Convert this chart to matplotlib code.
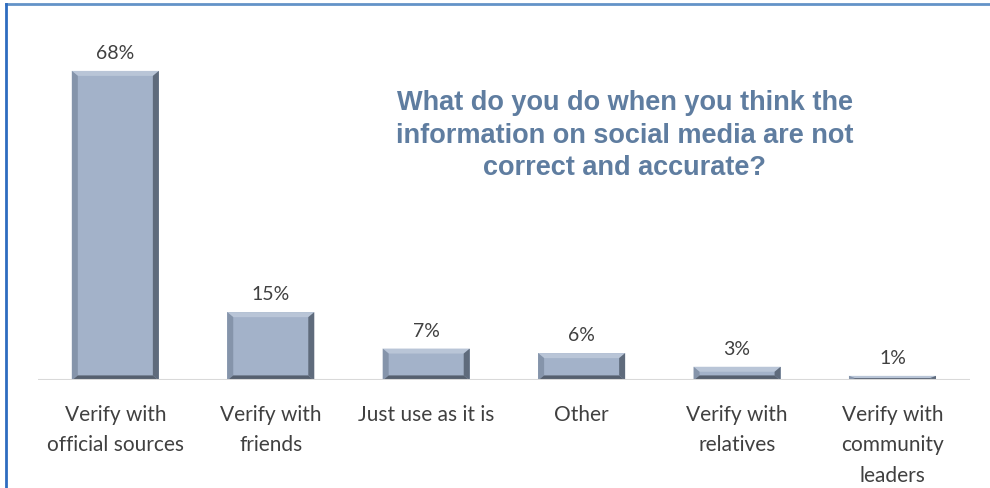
import matplotlib.pyplot as plt
from matplotlib.patches import Polygon, Rectangle
from matplotlib.lines import Line2D

categories = ["Verify with\nofficial sources", "Verify with\nfriends", "Just use as it is",
              "Other", "Verify with\nrelatives", "Verify with\ncommunity\nleaders"]
values = [68, 15, 7, 6, 3, 1]

title = "What do you do when you think the\ninformation on social media are not\ncorrect and accurate?"

face = "#a3b2c9"
top_col = "#b9c5d7"
left_col = "#8594aa"
right_col = "#5f6b7c"
bottom_col = "#56606f"
text_col = "#404040"

fig = plt.figure(figsize=(9.9, 4.89), dpi=100)
ax = fig.add_axes([0.038, 0.22, 0.942, 0.74])

x = list(range(len(values)))
width = 0.56
ymax = 79.5
ax.set_xlim(-0.5, len(values) - 0.5)
ax.set_ylim(0, ymax)

# pixel -> data scale for the bevelled edges
fig.canvas.draw()
bbox = ax.get_window_extent()
bx = 6 * len(values) / bbox.width
by = 5 * ymax / bbox.height

for xi, v in zip(x, values):
    x0 = xi - width / 2
    x1 = xi + width / 2
    ax.add_patch(Rectangle((x0, 0), width, v, facecolor=face, edgecolor="none"))
    b_y = min(by, v / 2)
    b_x = min(bx, width / 2)
    ax.add_patch(Polygon([(x0, v), (x1, v), (x1 - b_x, v - b_y), (x0 + b_x, v - b_y)],
                         closed=True, facecolor=top_col, edgecolor="none"))
    ax.add_patch(Polygon([(x0, 0), (x0, v), (x0 + b_x, v - b_y), (x0 + b_x, b_y)],
                         closed=True, facecolor=left_col, edgecolor="none"))
    ax.add_patch(Polygon([(x1, 0), (x1, v), (x1 - b_x, v - b_y), (x1 - b_x, b_y)],
                         closed=True, facecolor=right_col, edgecolor="none"))
    ax.add_patch(Polygon([(x0, 0), (x1, 0), (x1 - b_x, b_y), (x0 + b_x, b_y)],
                         closed=True, facecolor=bottom_col, edgecolor="none"))
    ax.annotate(f"{v}%", (xi, v), xytext=(0, 7), textcoords="offset points",
                ha="center", va="bottom", fontsize=14, color=text_col, family="Lato")

ax.axhline(0, color="#d9d9d9", lw=1.5)
for s in ax.spines.values():
    s.set_visible(False)
ax.set_yticks([])
ax.set_xticks(x)
ax.set_xticklabels(categories, fontsize=15, color=text_col, family="Lato", linespacing=1.65)
ax.tick_params(axis="x", length=0, pad=17)

ax.text(0.631, 0.815, title, transform=fig.transFigure, ha="center", va="top",
        fontsize=19.5, fontweight="bold", color="#5f7da0", family="Liberation Sans",
        linespacing=1.32)

# frame lines on the top and left
fig.add_artist(Line2D([0.006, 1], [0.99, 0.99], transform=fig.transFigure, color="#6393c8", lw=2))
fig.add_artist(Line2D([0.006, 0.006], [0, 0.99], transform=fig.transFigure, color="#2e6cc0", lw=2))

fig.savefig("out.png", dpi=100)
